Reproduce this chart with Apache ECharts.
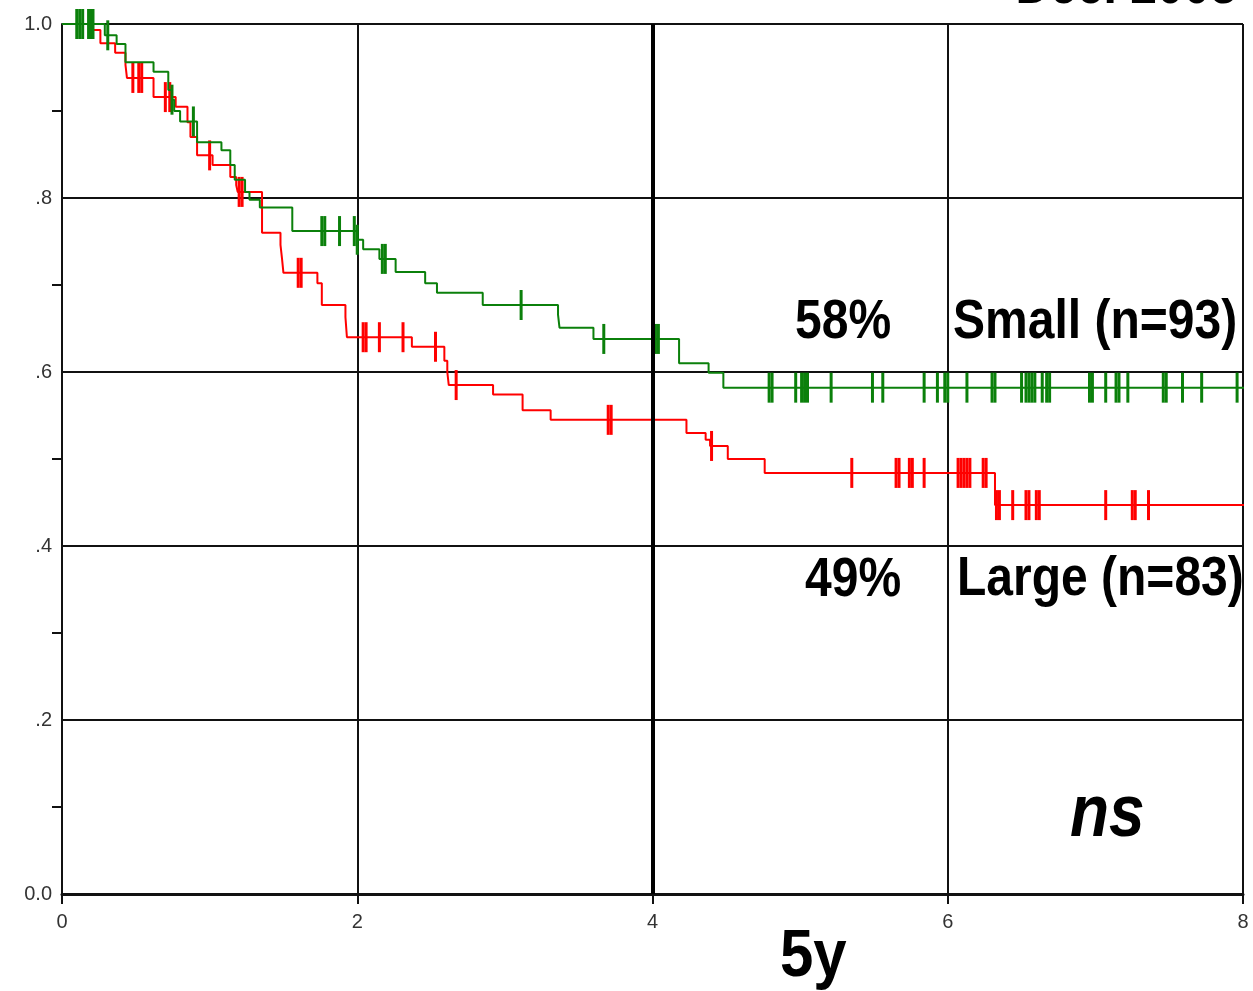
<!DOCTYPE html>
<html>
<head>
<meta charset="utf-8">
<script src="https://cdn.jsdelivr.net/npm/echarts@6/dist/echarts.min.js"></script>
<style>
html,body{margin:0;padding:0;background:#fff;}
#c{width:1253px;height:991px;}
</style>
</head>
<body>
<div id="c"></div>
<script>
// ---- data (time in axis units, survival proportion) ----
const xTicks = [0, 2, 4, 6, 8];
const yTickLabels = ['0.0', '.2', '.4', '.6', '.8', '1.0'];
const fiveYearMark = 4;
const followEnd = 8.07;

const greenTimes = [0, 0.29, 0.37, 0.43, 0.62, 0.72, 0.745, 0.76, 0.80, 0.915, 1.08, 1.14, 1.17, 1.24, 1.27, 1.34, 1.56, 2.0, 2.04, 2.15, 2.26, 2.46, 2.54, 2.85, 3.36, 3.37, 3.6, 4.18, 4.38, 4.48];
const greenSurv  = [1.0, 0.987, 0.977, 0.956, 0.945, 0.924, 0.913, 0.9, 0.888, 0.864, 0.855, 0.838, 0.821, 0.807, 0.798, 0.789, 0.762, 0.752, 0.741, 0.73, 0.715, 0.702, 0.691, 0.677, 0.666, 0.651, 0.638, 0.61, 0.599, 0.582];
const greenCensor = [0.10, 0.12, 0.14, 0.18, 0.20, 0.21, 0.31, 0.745, 0.89, 1.76, 1.78, 1.88, 1.98, 2.0, 2.17, 2.19, 3.11, 3.67, 4.02, 4.04, 4.79, 4.81, 4.97, 5.01, 5.03, 5.05, 5.21, 5.49, 5.56, 5.84, 5.93, 5.98, 6.0, 6.13, 6.30, 6.32, 6.50, 6.53, 6.55, 6.57, 6.59, 6.64, 6.67, 6.69, 6.96, 6.98, 7.07, 7.14, 7.16, 7.22, 7.46, 7.48, 7.59, 7.72, 7.96];

const redTimes = [0, 0.21, 0.26, 0.36, 0.43, 0.44, 0.62, 0.77, 0.85, 0.87, 0.915, 1.02, 1.14, 1.18, 1.19, 1.355, 1.48, 1.49, 1.50, 1.73, 1.76, 1.92, 1.93, 2.37, 2.59, 2.61, 2.62, 2.92, 3.12, 3.31, 4.23, 4.36, 4.39, 4.51, 4.76, 6.32];
const redSurv  = [1.0, 0.993, 0.978, 0.967, 0.953, 0.938, 0.916, 0.905, 0.887, 0.87, 0.849, 0.838, 0.824, 0.815, 0.807, 0.76, 0.746, 0.731, 0.714, 0.702, 0.677, 0.663, 0.64, 0.629, 0.613, 0.6, 0.585, 0.574, 0.556, 0.545, 0.53, 0.522, 0.515, 0.5, 0.484, 0.447];
const redCensor = [0.48, 0.52, 0.54, 0.70, 0.73, 1.0, 1.20, 1.22, 1.60, 1.62, 2.04, 2.06, 2.15, 2.31, 2.53, 2.67, 3.70, 3.72, 4.40, 5.35, 5.65, 5.67, 5.74, 5.76, 5.84, 6.07, 6.09, 6.11, 6.13, 6.15, 6.24, 6.26, 6.33, 6.35, 6.44, 6.53, 6.55, 6.60, 6.62, 7.07, 7.25, 7.27, 7.36];

// ---- helpers ----
function stepData(times, surv) {
  const d = times.map((t, i) => [t, surv[i]]);
  d.push([followEnd, surv[surv.length - 1]]);
  return d;
}
function survAt(times, surv, t) {
  let s = surv[0];
  for (let i = 0; i < times.length; i++) { if (times[i] <= t) s = surv[i]; }
  return s;
}
function censorData(cens, times, surv) {
  return cens.map(t => [t, survAt(times, surv, t)]);
}

const GREEN = '#0b800b';
const RED = '#ff0000';
const labelFont = 'Liberation Sans Narrow, Liberation Sans, Arial, sans-serif';
const boldFont = 'Liberation Sans, Arial, sans-serif';

const chart = echarts.init(document.getElementById('c'), null, {renderer: 'canvas'});

function bigText(txt, x, y, size, opts) {
  opts = opts || {};
  return {
    type: 'text', x: x, y: y, z: 100,
    scaleY: opts.scaleY || 1,
    style: {
      text: txt, x: 0, y: 0,
      fontSize: size, fontWeight: 'bold', fontStyle: opts.italic ? 'italic' : 'normal',
      fontFamily: boldFont, fill: '#000',
      align: opts.align || 'left', verticalAlign: 'middle'
    }
  };
}

chart.setOption({
  backgroundColor: '#fff',
  animation: false,
  grid: {left: 62, right: 10, top: 24, bottom: 97, containLabel: false},
  xAxis: {
    type: 'value', min: xTicks[0], max: xTicks[xTicks.length - 1], interval: 2,
    axisLine: {show: true, lineStyle: {color: '#111', width: 3}},
    axisTick: {show: true, length: 10, lineStyle: {color: '#111', width: 2}},
    axisLabel: {color: '#333', fontSize: 20, fontFamily: labelFont, margin: 18,
      formatter: v => String(v)},
    splitLine: {show: true, lineStyle: {color: '#111', width: 2}}
  },
  yAxis: {
    type: 'value', min: 0, max: 1, interval: 0.2,
    axisLine: {show: true, lineStyle: {color: '#111', width: 2}},
    axisTick: {show: false},
    minorTick: {show: true, splitNumber: 2, length: 10, lineStyle: {color: '#111', width: 2}},
    axisLabel: {color: '#333', fontSize: 20, fontFamily: labelFont, margin: 10,
      formatter: v => yTickLabels[Math.round(v / 0.2)]},
    splitLine: {show: true, lineStyle: {color: '#111', width: 2}}
  },
  series: [
    {
      type: 'line', name: 'Large', step: 'end', symbol: 'none', clip: false,
      data: stepData(redTimes, redSurv),
      lineStyle: {color: RED, width: 2}, z: 3,
      markLine: {
        silent: true, symbol: 'none', label: {show: false},
        lineStyle: {color: '#000', width: 4, type: 'solid'},
        data: [{xAxis: fiveYearMark}]
      }
    },
    {
      type: 'scatter', name: 'Large censored', symbol: 'rect', symbolSize: [3, 30],
      data: censorData(redCensor, redTimes, redSurv),
      itemStyle: {color: RED, opacity: 1}, z: 3
    },
    {
      type: 'line', name: 'Small', step: 'end', symbol: 'none', clip: false,
      data: stepData(greenTimes, greenSurv),
      lineStyle: {color: GREEN, width: 2}, z: 4
    },
    {
      type: 'scatter', name: 'Small censored', symbol: 'rect', symbolSize: [3, 30],
      data: censorData(greenCensor, greenTimes, greenSurv),
      itemStyle: {color: GREEN, opacity: 1}, z: 4
    }
  ],
  graphic: [
    bigText('58%', 795, 323, 48, {scaleY: 1.15}),
    bigText('Small (n=93)', 953, 323, 48, {scaleY: 1.15}),
    bigText('49%', 805, 581, 48, {scaleY: 1.15}),
    bigText('Large (n=83)', 957, 580, 48, {scaleY: 1.15}),
    bigText('ns', 1070, 816, 64, {italic: true, scaleY: 1.15}),
    bigText('5y', 780, 958, 60, {scaleY: 1.1}),
    bigText('Dec. 2003', 1237, -12, 48, {align: 'right', scaleY: 1.15})
  ]
});
</script>
</body>
</html>
